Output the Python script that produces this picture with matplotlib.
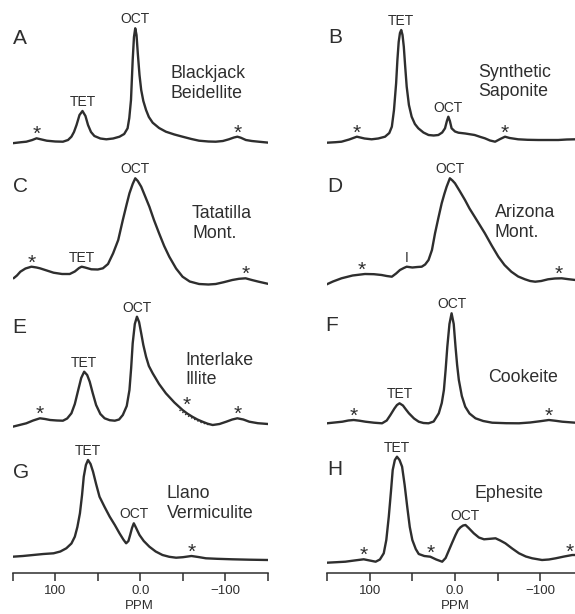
import numpy as np
import matplotlib.pyplot as plt

plt.rcParams["font.family"] = ["Liberation Sans", "DejaVu Sans"]

W, H = 575, 614
INK = "#2e2e2e"

# --- spectra: chemical shift (ppm) and trace height (arbitrary units) ---
ppm_a = [151, 140, 134, 127, 122, 116, 110, 100, 91, 85, 81, 78, 75, 71.5, 68, 64.5, 61.5, 58, 54, 47,
         40, 32, 24.5, 19, 15, 13, 11, 9, 7.5, 6, 4.5, 3, 1, -1, -3.5, -6.7, -10, -14.5, -22, -30,
         -40, -49.6, -60, -69, -80, -88.6, -97, -104, -110, -114, -118, -124, -131, -139, -151]
int_a = [1.7, 2.8, 3.3, 5, 6.7, 5.5, 4.3, 3.5, 3.3, 5, 8.3, 13, 20, 30, 34, 29, 20, 13, 9, 6.5,
         5.7, 6.5, 8.3, 11, 16.7, 27, 45, 85, 108, 116.7, 110, 91.7, 70, 55, 44, 35, 28, 22.3, 17, 13.3,
         10.5, 8.3, 6, 4.3, 3.5, 3.3, 4, 5.7, 7.5, 8.3, 7.3, 5, 4, 3.3, 2.3]

ppm_b = [150, 140, 133, 124, 115, 106, 97.7, 90, 82, 77, 74, 71.5, 69, 67.5, 66, 64.5, 63, 61.5, 60, 58.5,
         56.6, 54, 50.8, 47, 43, 37, 31, 25, 19.5, 15, 11.7, 9.5, 7.8, 6, 4, 0, -4, -12, -23, -30,
         -35, -41, -47, -53, -58.6, -64, -74, -85, -97.6, -110, -121, -131, -141, -150]
int_b = [2.3, 2.8, 3.3, 5.5, 8.3, 6.5, 5.7, 6.5, 8.3, 12, 18.3, 35, 61.7, 85, 103, 112, 115, 110, 98.3, 80,
         58.3, 40, 28.3, 21, 16.7, 12.5, 10, 9.5, 10, 12.5, 16.7, 24, 28.3, 24, 16.7, 13.5, 12.3, 11.5, 10, 8,
         6.7, 4.5, 3.3, 6, 8.3, 7, 5.7, 5.2, 5, 5, 5, 5.5, 5.7, 5.7]

ppm_c = [149, 145, 141, 135, 128, 122, 118, 110, 102, 92, 83, 77, 72, 69, 65, 57.6, 50, 44, 38, 32,
         26, 20.6, 16, 12.8, 9, 6, 3, -1, -5, -10.6, -16, -22, -28, -34, -42, -49.6, -58, -69, -80, -88.6,
         -98, -108, -116, -123.7, -131, -139, -151]
int_c = [11.7, 14.5, 18.3, 21.5, 23.3, 22.5, 21.7, 19.5, 17.3, 16, 16, 18.5, 22, 23.3, 22.5, 20.7, 20.5, 21.7, 26, 36.7,
         50, 70, 86, 96.7, 106, 111.7, 109, 103.3, 95, 83.3, 70, 56.7, 44, 33.3, 21.5, 13.3, 8.5, 6, 5.5, 6,
         7.8, 10, 11.2, 11.7, 10, 8.3, 6]

ppm_d = [152, 143, 133, 120, 105.5, 95, 86, 80, 74, 69, 64.5, 60, 56.6, 50, 44, 39, 35, 31, 27, 23.4,
         19.5, 15.6, 12.5, 9.8, 6, 3, 0, -5.5, -11.7, -17, -23, -29, -35, -43, -50.8, -58, -66, -74, -82, -88,
         -94, -101, -109, -117, -125, -133, -141, -150]
int_d = [5, 8.5, 11.7, 14.5, 16, 15.8, 15, 14, 13.3, 16.5, 20, 22, 23.3, 22.5, 23, 23.3, 25.5, 30, 40, 56.7,
         72, 86.7, 96, 103.3, 111.7, 109.5, 106.7, 99, 90, 81.5, 73.3, 65, 56.7, 44.5, 33.3, 25, 18.3, 13.5, 10.7, 9,
         8.3, 9, 10.7, 11.5, 11.7, 10.8, 10, 10]

ppm_e = [150, 142, 134, 126, 118, 112, 106, 98, 91, 86, 81, 77, 73, 69.5, 66, 62.5, 59.5, 56, 52, 47,
         42, 36, 30, 25, 20.6, 16, 12.8, 10.8, 9, 6.5, 4, 1.5, -1, -3.5, -6.7, -10, -14.5, -22, -30, -40,
         -49.6, -55, -61, -67, -73, -79, -85, -93, -101, -108, -114, -121, -128, -138, -150]
int_e = [3.3, 5, 6.7, 9.5, 11.7, 11, 10, 9.5, 9.3, 11.5, 16.7, 26, 40, 52, 58.3, 55, 48.3, 37, 25, 16,
         11.7, 9.8, 9.3, 10.5, 15, 24, 40, 62, 86.7, 106, 113.3, 108, 96.7, 85, 73.3, 64, 56.7, 46, 36.7, 27.5,
         20, 16.5, 13.3, 10.5, 8.3, 6.3, 5, 6, 8.3, 10.5, 11.7, 10.5, 8.3, 6.8, 6]
# dotted component drawn under the OCT tail of E
ppm_e_fit = [-46, -55, -64, -72, -80]
int_e_fit = [20, 14.5, 10.5, 7.3, 5.3]

ppm_f = [150, 141, 132, 125, 118.7, 112, 105, 95, 85.5, 80, 75.7, 71, 68, 65, 61, 57.5, 54, 48, 42.5, 37,
         31, 25, 19, 15.5, 13, 11, 9, 6.5, 4, 1.5, -0.6, -2.5, -4.5, -8, -12, -17, -24, -33, -43.6, -60,
         -75, -88, -100, -110, -118, -125.7, -141, -150]
int_f = [6.7, 7.5, 8.3, 9.5, 10, 9.3, 8.3, 7.3, 6.7, 9.5, 15, 21.5, 25, 26.7, 24.5, 20.5, 16.7, 11.5, 8.3, 7,
         6.7, 8.5, 16.7, 27, 40, 60, 83.3, 106, 116.7, 106, 83.3, 65, 50, 34, 23.3, 16.5, 11.7, 9, 7.3, 6.8,
         6.7, 7.5, 8.8, 10, 9.2, 8.3, 7.3, 7.3]

ppm_g = [150, 138, 126, 114, 102, 94, 87, 81, 77, 74, 71, 68.5, 66.5, 64, 61.5, 58.5, 55.6, 52, 48, 42,
         36, 30, 24.5, 20, 16.7, 14, 12, 9.8, 7.7, 5.5, 3, 1, -4, -10.6, -18, -26, -34, -42, -50, -60,
         -68, -77, -90, -108, -128, -150]
int_g = [16.3, 17, 18, 19, 19.7, 21.5, 24.7, 29.5, 36.3, 46, 59.7, 78, 96.3, 108, 113, 109, 101.3, 89, 76.3, 66,
         56.3, 48, 39.7, 33.5, 29.7, 32, 38, 45, 49.7, 46, 41.5, 38, 32, 26.3, 21.5, 18, 16.2, 15.3, 15.8, 17,
         16, 14.7, 14.2, 13.7, 13.3, 13]

ppm_h = [150, 139, 128.5, 118, 107, 100, 93, 88, 83.5, 80.5, 77.6, 75, 73, 70.5, 68, 65, 62, 59, 56, 53,
         50, 46, 42.5, 36, 29, 22, 15, 11, 7, 3, -0.6, -3.5, -6.4, -9.5, -12.3, -16, -22, -28, -34, -41,
         -47.5, -53, -59, -67, -75, -83, -90.5, -102, -110, -118, -128, -137.5, -150]
int_h = [10.3, 10.8, 11.3, 12.5, 13.7, 12.5, 11.3, 13.5, 19.7, 33, 56.3, 82, 103, 113, 116.3, 113, 106.3, 88, 66.3, 46,
         33, 24, 19, 17, 16.3, 13.5, 11.3, 15, 23, 31, 38, 43, 45.7, 47.5, 48, 45, 39.7, 35.5, 33.7, 34.2,
         34.7, 32.5, 29.7, 24.5, 19.7, 16.5, 14.7, 13, 13.5, 14.7, 16.5, 18, 18]

# --- peak / sideband annotations (text, ppm[, lift in px]) ---
marks_a = [("*", 122), ("TET", 68), ("OCT", 6), ("*", -114)]
marks_b = [("*", 115), ("TET", 63), ("OCT", 7.8), ("*", -58.6)]
marks_c = [("*", 128), ("TET", 69), ("OCT", 6), ("*", -123.7)]
marks_d = [("*", 109), ("I", 56.6), ("OCT", 6), ("*", -121)]
marks_e = [("*", 118), ("TET", 66), ("OCT", 4), ("*", -54, 14), ("*", -114)]
marks_f = [("*", 118.7), ("TET", 65), ("OCT", 4), ("*", -110)]
marks_g = [("TET", 61.5), ("OCT", 7.7), ("*", -60)]
marks_h = [("*", 107), ("TET", 68), ("*", 29), ("OCT", -12.3), ("*", -134)]

names = {
    "A": ["Blackjack", "Beidellite"], "B": ["Synthetic", "Saponite"],
    "C": ["Tatatilla", "Mont."], "D": ["Arizona", "Mont."],
    "E": ["Interlake", "Illite"], "F": ["Cookeite"],
    "G": ["Llano", "Vermiculite"], "H": ["Ephesite"],
}

# layout in reference pixels
COL_X = [(12.7, 268.0), (327.0, 583.0)]          # 150 ppm .. -150 ppm
ROW_Y = [(0, 145), (145, 290), (290, 430), (430, 573)]
panels = [
    # letter, ppm, int, marks, col, row, letter (x, baseline), name (x, baseline)
    ("A", ppm_a, int_a, marks_a, 0, 0, (13, 44), (170, 78)),
    ("B", ppm_b, int_b, marks_b, 1, 0, (328, 43), (478, 77)),
    ("C", ppm_c, int_c, marks_c, 0, 1, (13, 192), (192, 218)),
    ("D", ppm_d, int_d, marks_d, 1, 1, (327, 192), (495, 217)),
    ("E", ppm_e, int_e, marks_e, 0, 2, (12, 333), (185, 365)),
    ("F", ppm_f, int_f, marks_f, 1, 2, (325, 331), (488, 382)),
    ("G", ppm_g, int_g, marks_g, 0, 3, (13, 478), (167, 498)),
    ("H", ppm_h, int_h, marks_h, 1, 3, (327, 475), (475, 498)),
]
# font size (pt) and height of glyph centre above baseline (em)
MARK_STYLE = {"*": (15, 0.57), "OCT": (10, 0.36), "TET": (10, 0.36), "I": (10, 0.36)}


def fx(x):
    return x / W


def fy(y):
    return 1 - y / H


fig = plt.figure(figsize=(W / 100, H / 100), dpi=100)

for letter, ppm, inten, marks, col, row, lpos, npos in panels:
    x0, x1 = COL_X[col]
    y0, y1 = ROW_Y[row]
    ax = fig.add_axes([fx(x0), fy(y1), (x1 - x0) / W, (y1 - y0) / H])
    ax.set_xlim(150, -150)
    ax.set_ylim(0, y1 - y0)
    ax.patch.set_visible(False)
    ax.plot(ppm, inten, color=INK, lw=1.7, solid_joinstyle="round", solid_capstyle="round")
    if letter == "E":
        ax.plot(ppm_e_fit, int_e_fit, color=INK, lw=1.0, ls=(0, (1, 1.5)))

    for sp in ax.spines.values():
        sp.set_visible(False)
    ax.set_yticks([])
    if row == 3:
        ax.spines["bottom"].set_visible(True)
        ax.spines["bottom"].set_linewidth(1.1)
        ax.spines["bottom"].set_color(INK)
        ax.set_xticks([100, 0, -100])
        ax.set_xticklabels(["100", "0.0", "\u2212100"])
        ax.set_xticks([150, 50, -50, -150], minor=True)
        ax.tick_params(which="both", direction="out", length=5.5, width=1.1, color=INK,
                       labelsize=9.5, labelcolor=INK, pad=3)
    else:
        ax.set_xticks([])

    order = np.argsort(ppm)
    xs, ys = np.asarray(ppm)[order], np.asarray(inten)[order]
    for m in marks:
        text, pos = m[0], m[1]
        lift = m[2] if len(m) > 2 else 10
        fs, mid = MARK_STYLE[text]
        dy_px = lift - mid * fs * 100 / 72
        ax.annotate(text, xy=(pos, np.interp(pos, xs, ys)), xytext=(0, dy_px * 0.72),
                    textcoords="offset points", ha="center", va="baseline",
                    fontsize=fs, color=INK)

    fig.text(fx(lpos[0]), fy(lpos[1]), letter, fontsize=15, color=INK, ha="left", va="baseline")
    for i, line in enumerate(names[letter]):
        fig.text(fx(npos[0]), fy(npos[1] + 19.5 * i), line, fontsize=12.8, color=INK,
                 ha="left", va="baseline")

for xc in (139, 455):
    fig.text(fx(xc), fy(606), "PPM", fontsize=9.5, color=INK, ha="center", va="center")

fig.savefig("out.png", dpi=100, facecolor="white")
